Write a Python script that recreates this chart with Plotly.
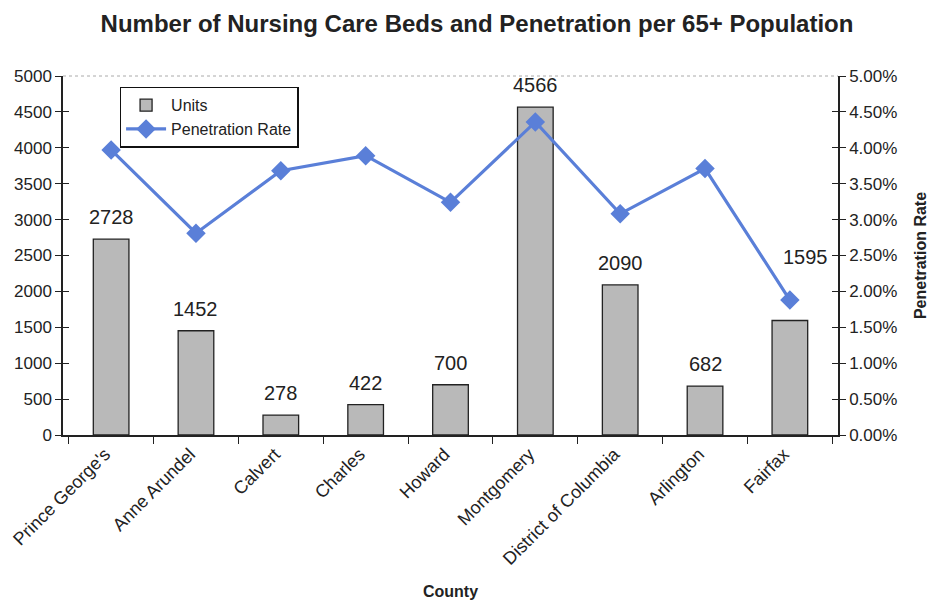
import plotly.graph_objects as go

# données
counties = ["Prince George's", "Anne Arundel", "Calvert", "Charles", "Howard",
            "Montgomery", "District of Columbia", "Arlington", "Fairfax"]
units = [2728, 1452, 278, 422, 700, 4566, 2090, 682, 1595]
penetration = [0.0397, 0.0281, 0.0368, 0.0389, 0.0324, 0.0436, 0.0308, 0.0371, 0.0188]

FONT = "Liberation Sans, Arial, sans-serif"
INK = "#222"

fig = go.Figure()

fig.add_trace(go.Bar(
    x=counties, y=units, name="Units",
    marker=dict(color="#b9b9b9", line=dict(color=INK, width=1.3)),
    width=0.42,
))

fig.add_trace(go.Scatter(
    x=counties, y=penetration, name="Penetration Rate", yaxis="y2",
    mode="lines+markers",
    line=dict(color="#5a7fd8", width=3.2),
    marker=dict(symbol="diamond", size=15, color="#5a7fd8"),
))

# étiquettes des barres (Fairfax est décalée plus haut sur l'original)
annots = []
for c, u in zip(counties, units):
    shift = 63 if c == "Fairfax" else 22
    annots.append(dict(x=c, y=u, xref="x", yref="y", text=str(u), showarrow=False,
                       yshift=shift, xshift=16 if c == "Fairfax" else 0,
                       font=dict(size=20, family=FONT, color=INK)))

axis_common = dict(showgrid=False, zeroline=False, automargin=False,
                   tickcolor=INK, tickwidth=1.3)

# la page ajoute 8px de marge (body) : on compense
fig.update_layout(
    width=938, height=602,
    paper_bgcolor="white", plot_bgcolor="white",
    font=dict(family=FONT, size=17, color=INK),
    title=dict(text="<b>Number of Nursing Care Beds and Penetration per 65+ Population</b>",
               x=0.5, xanchor="center", y=0.988, yanchor="top",
               font=dict(size=24, family=FONT, color=INK)),
    margin=dict(l=55, r=108, t=68, b=175),
    bargap=0.5,
    showlegend=True,
    legend=dict(x=0.073, y=0.97, xanchor="left", yanchor="top",
                bgcolor="white", bordercolor="#111", borderwidth=1.5,
                font=dict(size=16, family=FONT), tracegroupgap=0,
                itemwidth=40),
    xaxis=dict(
        title=dict(text="<b>County</b>", font=dict(size=16), standoff=18),
        tickangle=-45, tickson="boundaries", ticks="outside", ticklen=7,
        showline=True, linecolor=INK, linewidth=1.5, ticklabelshift=-6,
        tickfont=dict(size=18), **axis_common,
    ),
    yaxis=dict(
        range=[0, 5000], dtick=500, ticks="outside", ticklen=6,
        showline=True, linecolor=INK, linewidth=1.5,
        tickfont=dict(size=17), **axis_common,
    ),
    yaxis2=dict(
        range=[0, 0.05], dtick=0.005, tickformat=".2%", overlaying="y", side="right",
        ticks="outside", ticklen=6, showline=True,
        linecolor=INK, linewidth=1.5,
        title=dict(text="<b>Penetration Rate</b>", font=dict(size=16), standoff=18),
        tickfont=dict(size=17), **axis_common,
    ),
    # petites graduations intérieures (les graduations traversent l'axe)
    yaxis3=dict(range=[0, 5000], dtick=500, overlaying="y", side="left",
                ticks="inside", ticklen=6, showticklabels=False, showline=False,
                **axis_common),
    yaxis4=dict(range=[0, 5000], dtick=500, overlaying="y", side="right",
                ticks="inside", ticklen=6, showticklabels=False, showline=False,
                **axis_common),
    annotations=annots,
    shapes=[dict(type="line", xref="paper", yref="paper", x0=0, x1=1, y0=1, y1=1,
                 line=dict(color="#aaa", width=1, dash="dot"))],
)

# traces invisibles pour afficher les axes 3 et 4
fig.add_trace(go.Scatter(x=[counties[0]], y=[0], yaxis="y3", mode="markers",
                         marker=dict(opacity=0), showlegend=False, hoverinfo="skip"))
fig.add_trace(go.Scatter(x=[counties[0]], y=[0], yaxis="y4", mode="markers",
                         marker=dict(opacity=0), showlegend=False, hoverinfo="skip"))

fig.write_html("out.html")
